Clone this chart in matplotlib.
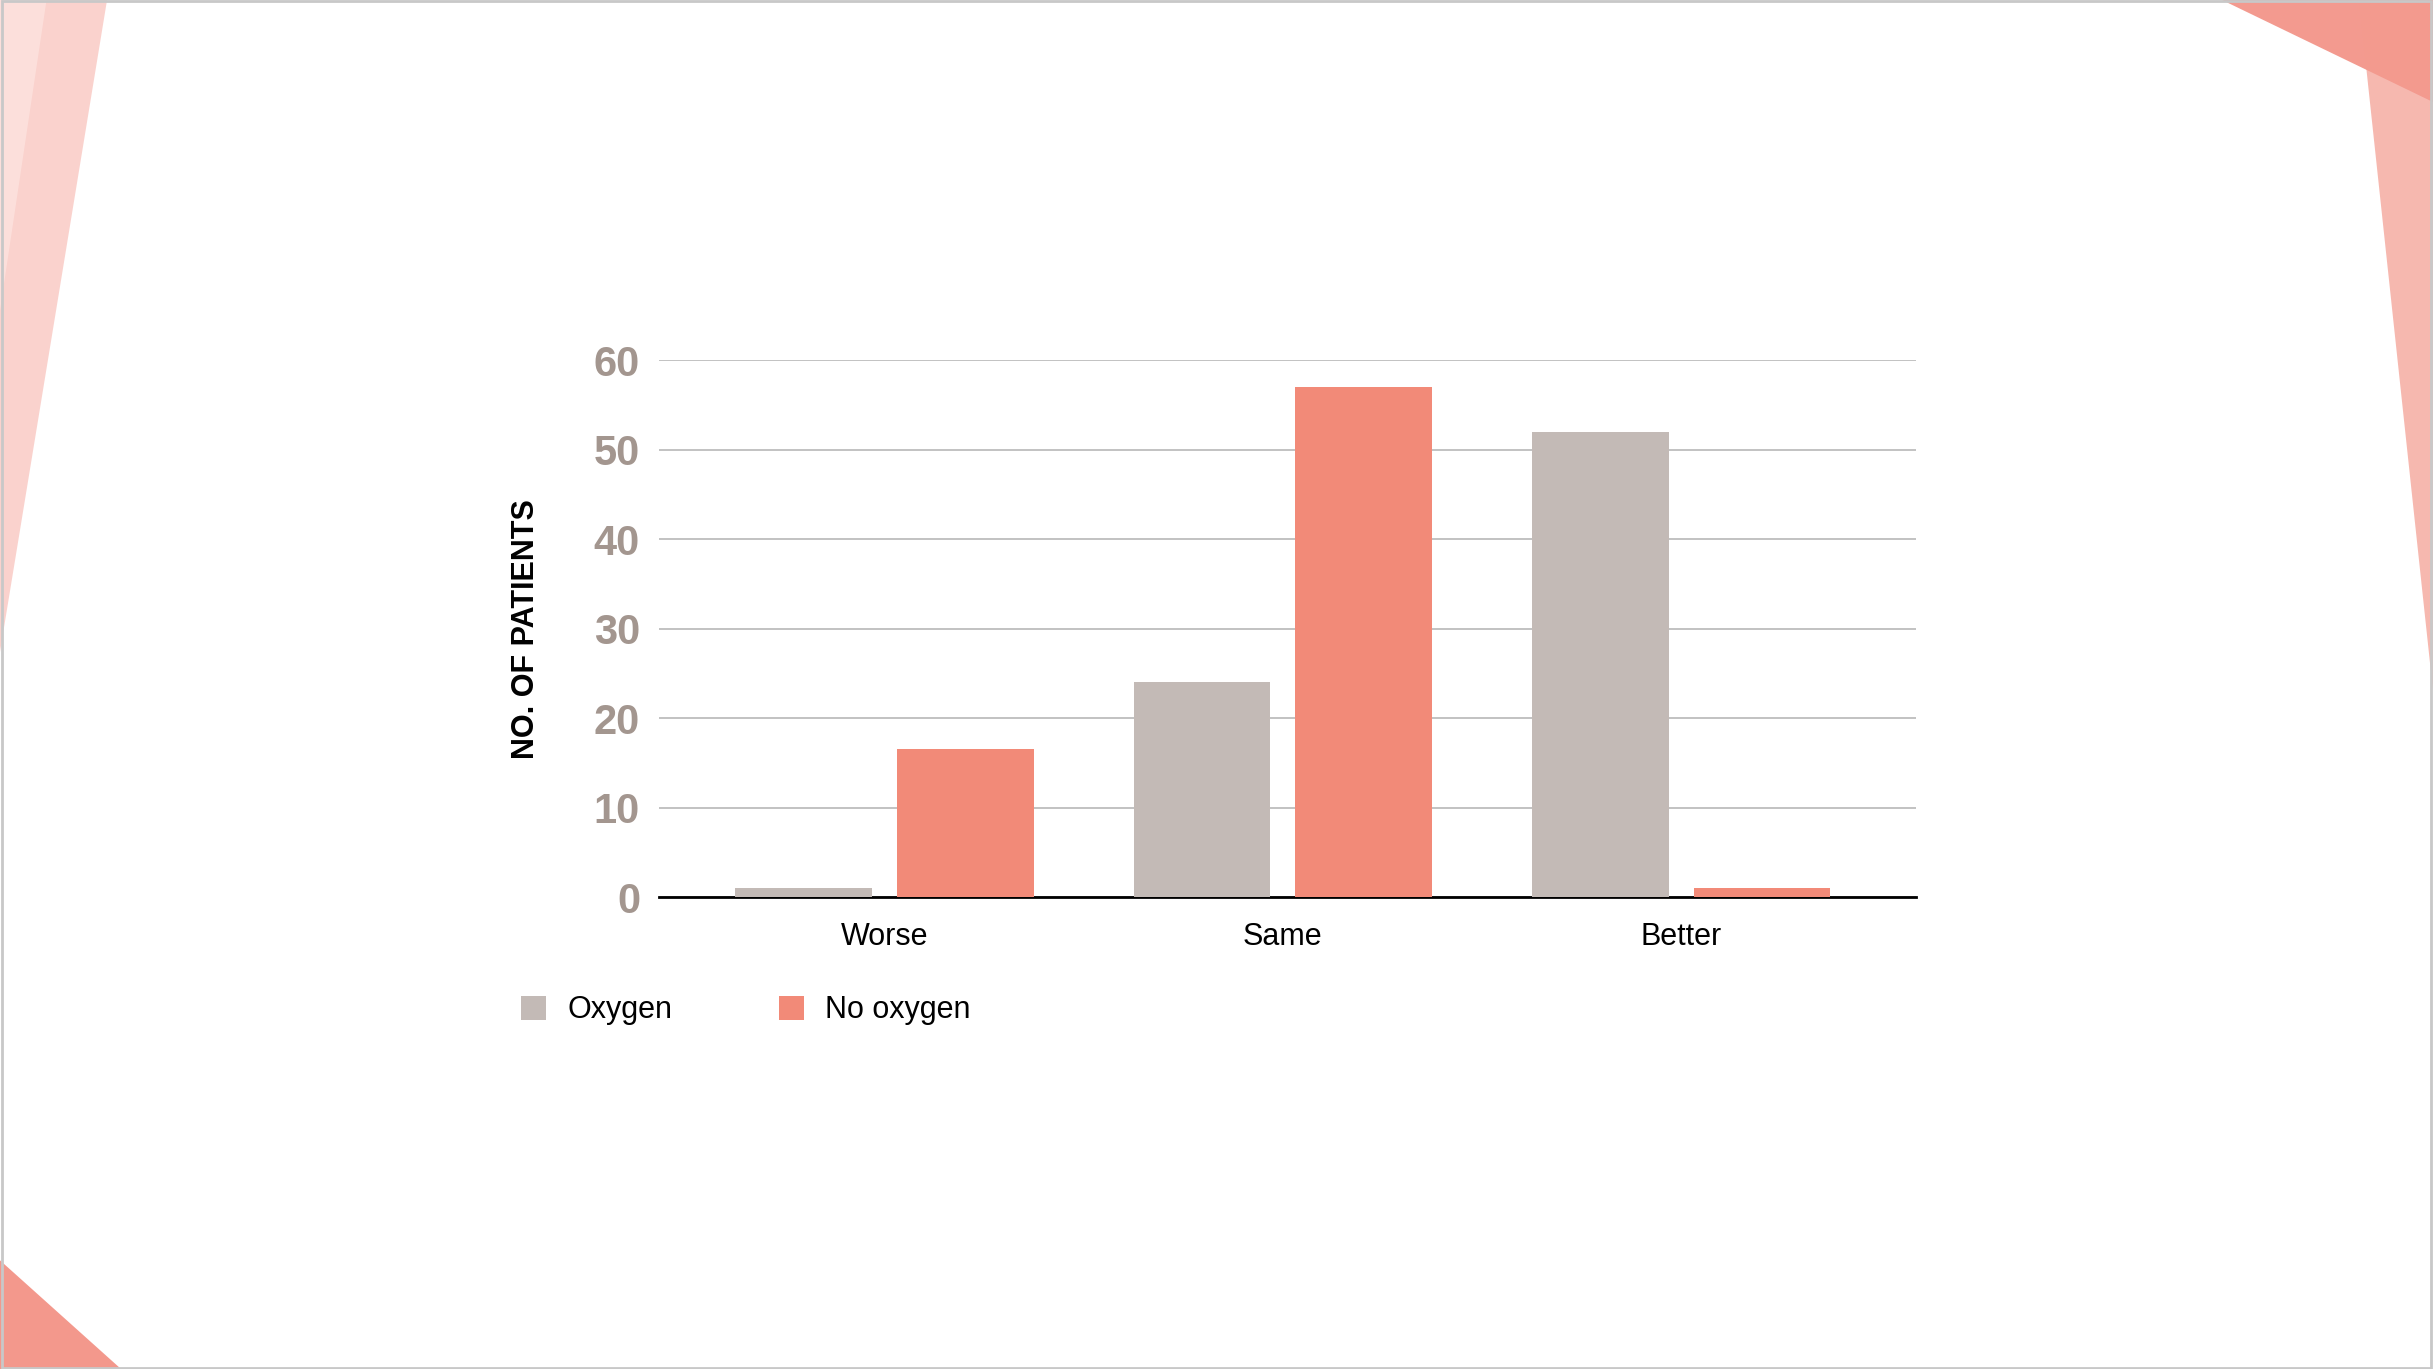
import numpy as np
import matplotlib.pyplot as plt
from matplotlib.patches import Polygon, Rectangle

categories = ['Worse', 'Same', 'Better']
oxygen = [1, 24, 52]
no_oxygen = [16.5, 57, 1]
yticks = [0, 10, 20, 30, 40, 50, 60]

GREY = '#c3bab6'
RED = '#f28a78'

W, H = 1568, 882  # reference layout units


def fpoly(fig, pts, color, alpha):
    pts = [(x / W, 1 - y / H) for x, y in pts]
    fig.patches.append(Polygon(pts, closed=True, transform=fig.transFigure,
                               facecolor=color, alpha=alpha, lw=0, zorder=0))


fig = plt.figure(figsize=(24.33, 13.69), dpi=100)
plt.rcParams['font.family'] = ['Liberation Sans', 'DejaVu Sans']

# decorative corner triangles
fpoly(fig, [(0, 0), (69, 0), (0, 420)], '#f7b5ad', 0.6)
fpoly(fig, [(0, 0), (30, 0), (0, 200)], '#fde3df', 0.8)
fpoly(fig, [(1432, 0), (1568, 0), (1568, 66)], '#ee7060', 0.7)
fpoly(fig, [(1520, 0), (1568, 0), (1568, 445)], '#f39a8e', 0.7)
fpoly(fig, [(0, 812), (78, 882), (0, 882)], '#f07f70', 0.8)
fig.patches.append(Rectangle((0.001, 0.001), 0.998, 0.998, transform=fig.transFigure,
                             fill=False, edgecolor='#c8c8c8', lw=2))

ax = fig.add_axes([425 / W, 1 - 578 / H, 810 / W, 346 / H])
x = np.arange(len(categories))
bw = 0.343
off = 0.203
ax.bar(x - off, oxygen, bw, color=GREY, zorder=3, label='Oxygen')
ax.bar(x + off, no_oxygen, bw, color=RED, zorder=3, label='No oxygen')

ax.set_xlim(-0.565, 2.59)
ax.set_ylim(0, 60)
ax.set_yticks(yticks)
ax.set_yticklabels([str(t) for t in yticks], fontsize=30, fontweight='bold', color='#a3968f')
ax.set_xticks(x)
ax.set_xticklabels(categories, fontsize=22)
ax.tick_params(axis='both', length=0)
ax.tick_params(axis='x', pad=18)
ax.tick_params(axis='y', pad=14)
ax.grid(axis='y', color='#bdbdbd', lw=1.3, zorder=0)
for s in ['top', 'right', 'left']:
    ax.spines[s].set_visible(False)
ax.spines['bottom'].set_linewidth(2)
ax.set_ylabel('NO. OF PATIENTS', fontsize=22, fontweight='bold', labelpad=38)

fig.legend(loc='center left', bbox_to_anchor=(0.203, 1 - 651 / H), ncol=2,
           frameon=False, fontsize=22, handlelength=0.8, handleheight=0.8,
           columnspacing=3.5, handletextpad=0.7)

fig.savefig('out.png', dpi=100)
